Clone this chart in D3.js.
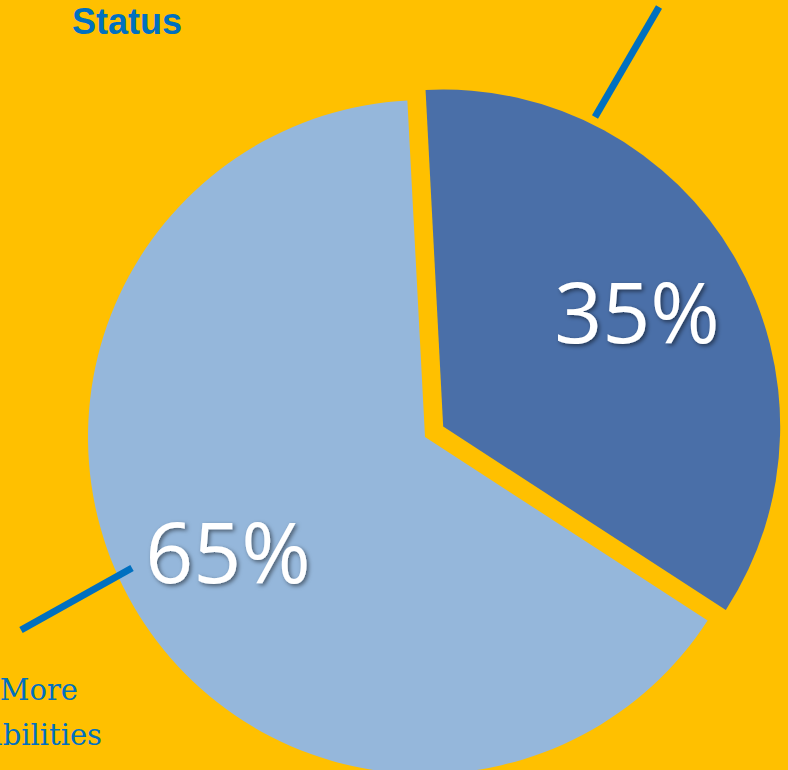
<!DOCTYPE html>
<html><head><meta charset="utf-8">
<script src="https://cdn.jsdelivr.net/npm/d3@7"></script>
<style>html,body{margin:0;padding:0;background:#FFC000;overflow:hidden}</style>
</head><body>
<script>
const categories = ["Status", "More Capabilities"];
const values = [35, 65];
const labels = ["35%", "65%"];
const colors = ["#4A6FA8", "#95B7DB"];

const W = 788, H = 770;
const svg = d3.select("body").append("svg").attr("width", W).attr("height", H);
svg.append("rect").attr("width", W).attr("height", H).attr("fill", "#FFC000");

const defs = svg.append("defs");
const f = defs.append("filter").attr("id", "sh").attr("x", "-20%").attr("y", "-20%").attr("width", "140%").attr("height", "140%");
f.append("feDropShadow").attr("dx", 2).attr("dy", 2).attr("stdDeviation", 2).attr("flood-color", "#000").attr("flood-opacity", 0.5);

const cx = 425, cy = 437, r = 337;
const startDeg = -3;
const pie = d3.pie().sort(null).value(d => d)
  .startAngle(startDeg * Math.PI / 180).endAngle((startDeg + 360) * Math.PI / 180);
const arcs = pie(values);
const arc = d3.arc().innerRadius(0).outerRadius(r);
const explode = [21, 0];

const g = svg.append("g").attr("transform", `translate(${cx},${cy})`);
arcs.forEach((a, i) => {
  const mid = (a.startAngle + a.endAngle) / 2;
  const ox = Math.sin(mid) * explode[i], oy = -Math.cos(mid) * explode[i];
  g.append("path").attr("d", arc(a)).attr("fill", colors[i])
    .attr("transform", `translate(${ox},${oy})`);
});

// percentage labels
const labelPos = [[637, 343], [228, 583]];
labels.forEach((t, i) => {
  svg.append("text").attr("x", labelPos[i][0]).attr("y", labelPos[i][1])
    .attr("text-anchor", "middle").attr("font-family", "Open Sans, sans-serif")
    .attr("font-size", 84).attr("fill", "#fff").attr("filter", "url(#sh)").text(t);
});

// leader lines
const leaders = [[[595, 117], [659, 7]], [[132, 568], [21, 630]]];
leaders.forEach(l => {
  svg.append("line").attr("x1", l[0][0]).attr("y1", l[0][1]).attr("x2", l[1][0]).attr("y2", l[1][1])
    .attr("stroke", "#0070C0").attr("stroke-width", 7);
});

// category labels
svg.append("text").attr("x", 72).attr("y", 34).attr("font-family", "Liberation Sans, Arial, sans-serif")
  .attr("font-weight", "bold").attr("font-size", 36).attr("fill", "#0070C0").text(categories[0]);
const words = categories[1].split(" ");
svg.append("text").attr("x", 78).attr("y", 700).attr("text-anchor", "end")
  .attr("font-family", "DejaVu Serif, serif").attr("font-size", 29).attr("fill", "#0070C0").text(words[0]);
svg.append("text").attr("x", 102).attr("y", 745).attr("text-anchor", "end")
  .attr("font-family", "DejaVu Serif, serif").attr("font-size", 29).attr("fill", "#0070C0").text(words[1]);
</script>
</body></html>
